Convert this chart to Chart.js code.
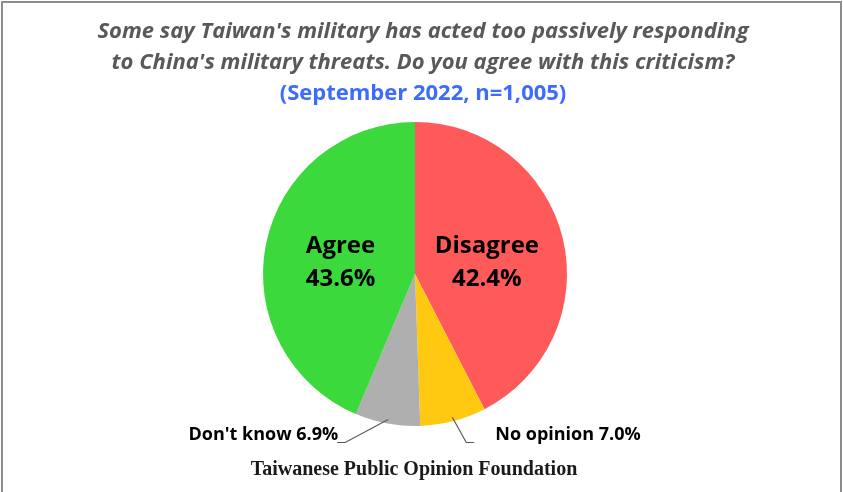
<!DOCTYPE html>
<html>
<head>
<meta charset="utf-8">
<script src="https://cdn.jsdelivr.net/npm/chart.js@4"></script>
<style>
  html, body { margin: 0; padding: 0; background: #fff; }
  #wrap { width: 843px; height: 492px; position: relative; }
</style>
</head>
<body>
<div id="wrap"><canvas id="myChart" width="843" height="492"></canvas></div>
<script>
const categories = ["Disagree", "No opinion", "Don't know", "Agree"];
const values = [42.4, 7.0, 6.9, 43.6];
const sliceColors = ["#ff5a5a", "#ffc912", "#afafaf", "#3cd93c"];
const titleLines = ["Some say Taiwan's military has acted too passively responding",
                    "to China's military threats. Do you agree with this criticism?"];
const subtitle = "(September 2022, n=1,005)";
const footer = "Taiwanese Public Opinion Foundation";

const textPlugin = {
  id: 'textPlugin',
  afterDraw(chart) {
    const ctx = chart.ctx;
    ctx.save();
    // frame
    ctx.strokeStyle = '#8c8c8c';
    ctx.lineWidth = 2;
    ctx.beginPath();
    ctx.moveTo(2, 492);
    ctx.lineTo(2, 2);
    ctx.lineTo(841, 2);
    ctx.lineTo(841, 492);
    ctx.stroke();

    ctx.textAlign = 'center';
    ctx.textBaseline = 'middle';
    ctx.fillStyle = '#595959';
    ctx.font = 'italic bold 22px "Open Sans"';
    ctx.fillText(titleLines[0], 423, 32);
    ctx.fillText(titleLines[1], 423, 63);
    ctx.fillStyle = '#3d6bff';
    ctx.font = 'bold 22px "Open Sans"';
    ctx.fillText(subtitle, 423, 94);

    ctx.fillStyle = '#1a1a1a';
    ctx.font = 'bold 20px "Liberation Serif"';
    ctx.fillText(footer, 414, 470);

    const meta = chart.getDatasetMeta(0);
    // inner labels
    ctx.fillStyle = '#000';
    ctx.font = 'bold 24px "Open Sans"';
    [0, 3].forEach(i => {
      const p = meta.data[i].tooltipPosition();
      const x = i === 0 ? p.x - 2 : p.x;
      ctx.fillText(categories[i], x, 246);
      ctx.fillText(values[i].toFixed(1) + '%', x, 279);
    });

    // outer labels with leader lines
    ctx.font = 'bold 18px "Open Sans"';
    ctx.strokeStyle = '#595959';
    ctx.lineWidth = 1.2;
    [1, 2].forEach(i => {
      const arc = meta.data[i];
      const mid = (arc.startAngle + arc.endAngle) / 2;
      const r = arc.outerRadius;
      const sx = arc.x + Math.cos(mid) * (r - 4);
      const sy = arc.y + Math.sin(mid) * (r - 4);
      const dir = i === 1 ? 1 : -1;
      const ex = sx + dir * 14 + (i === 2 ? -29 : 0);
      const ey = 442.5;
      ctx.beginPath();
      ctx.moveTo(sx, sy);
      ctx.lineTo(ex, ey);
      ctx.lineTo(ex + dir * 8, ey);
      ctx.stroke();
      ctx.textAlign = i === 1 ? 'left' : 'right';
      const label = categories[i] + ' ' + values[i].toFixed(1) + '%';
      ctx.fillText(label, i === 1 ? ex + 29 : ex - 7, 435);
    });
    ctx.restore();
  }
};

new Chart(document.getElementById('myChart').getContext('2d'), {
  type: 'pie',
  data: {
    labels: categories,
    datasets: [{
      data: values,
      backgroundColor: sliceColors,
      borderWidth: 0
    }]
  },
  options: {
    responsive: false,
    animation: false,
    layout: { padding: { top: 122, bottom: 66, left: 263, right: 276 } },
    plugins: {
      legend: { display: false },
      tooltip: { enabled: false }
    }
  },
  plugins: [textPlugin]
});
</script>
</body>
</html>
